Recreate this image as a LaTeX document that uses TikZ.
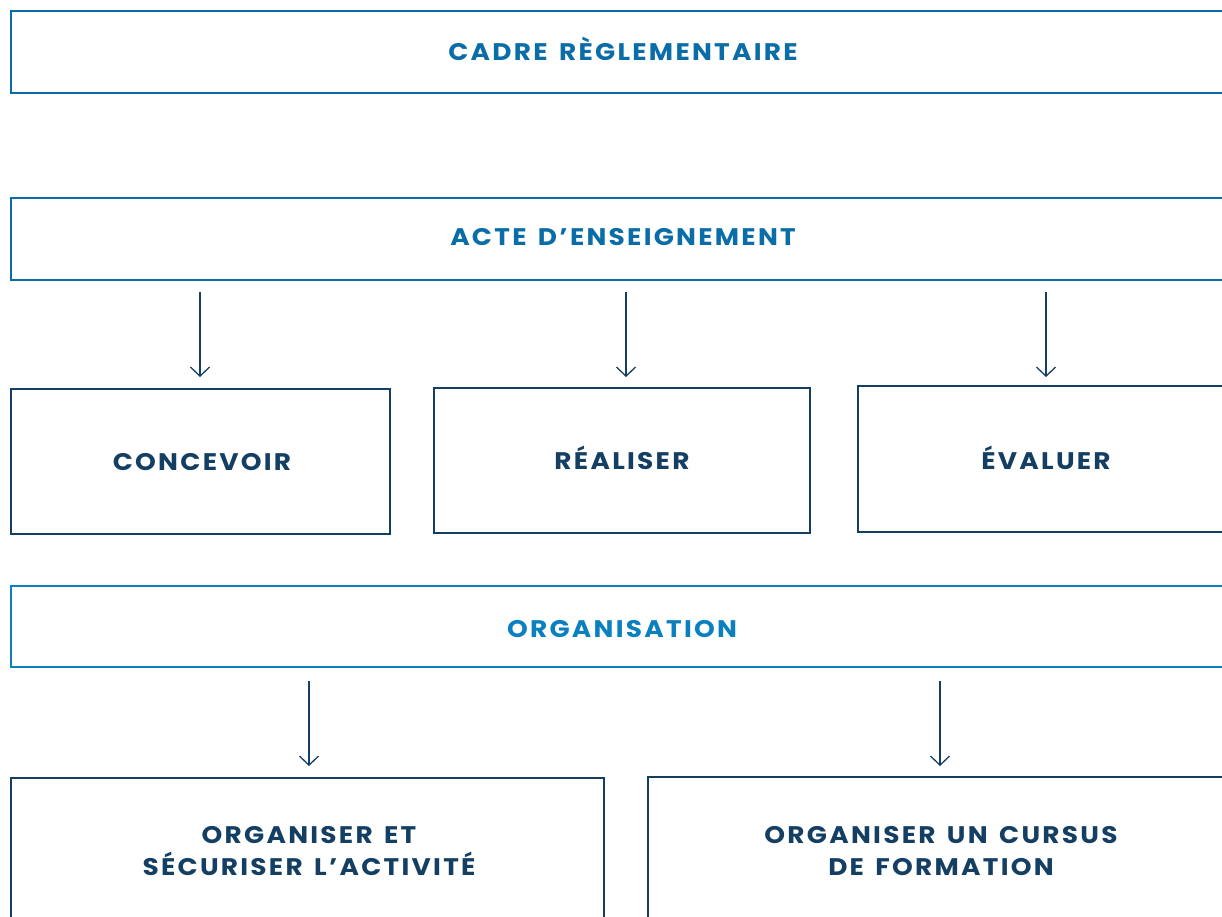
\documentclass[tikz,border=0pt]{standalone}
\usepackage{fontspec}
\setmainfont{Poppins}
\newfontfamily\labfont{Poppins}[LetterSpace=9.5, FakeStretch=1.1, WordSpace=1.45]
\usetikzlibrary{arrows.meta}
\definecolor{topblue}{HTML}{0B6DA8}
\definecolor{orgblue}{HTML}{0A80C0}
\definecolor{darkblue}{HTML}{143F63}
\tikzset{
  x=1pt, y=-1pt,
  topframe/.style={draw=topblue, line width=2.9pt},
  orgframe/.style={draw=orgblue, line width=2.9pt},
  subframe/.style={draw=darkblue, line width=1.3pt},
  toplabel/.style={anchor=base, inner sep=0pt, text=topblue, font=\labfont\bfseries\fontsize{24}{32}\selectfont},
  orglabel/.style={anchor=base, inner sep=0pt, text=orgblue, font=\labfont\bfseries\fontsize{24}{32}\selectfont},
  sublabel/.style={anchor=base, inner sep=0pt, text=darkblue, align=center, font=\labfont\bfseries\fontsize{24}{32}\selectfont},
  flow/.style={draw=darkblue, line width=1.3pt, -{Straight Barb[length=9pt,width=19pt,line width=1.3pt]}},
}
\begin{document}
\begin{tikzpicture}
\useasboundingbox (0,0) rectangle (1222,917);
% frames
\draw[topframe] (11,11) rectangle (1236,93);
\draw[topframe] (11,198) rectangle (1236,280);
\draw[orgframe] (11,586) rectangle (1236,667);
\draw[subframe] (11,389) rectangle (390,534);
\draw[subframe] (434,388) rectangle (810,533);
\draw[subframe] (858,386) rectangle (1236,532);
\draw[subframe] (11,960) -- (11,778) -- (604,778) -- (604,960);
\draw[subframe] (648,960) -- (648,777) -- (1236,777);
% labels
\node[toplabel] (cadre) at (623,61) {CADRE RÈGLEMENTAIRE};
\node[toplabel] (acte) at (623,245) {ACTE D’ENSEIGNEMENT};
\node[sublabel] (concevoir) at (202,470) {CONCEVOIR};
\node[sublabel] (realiser) at (622,469) {RÉALISER};
\node[sublabel] (evaluer) at (1046,469) {ÉVALUER};
\node[orglabel] (orga) at (622,637) {ORGANISATION};
\node[sublabel] (org1) at (309,875) {ORGANISER ET\\SÉCURISER L’ACTIVITÉ};
\node[sublabel] (org2) at (941,875) {ORGANISER UN CURSUS\\DE FORMATION};
% arrow anchors
\coordinate (a1s) at (200,292); \coordinate (a1e) at (200,377);
\coordinate (a2s) at (626,292); \coordinate (a2e) at (626,377);
\coordinate (a3s) at (1046,292); \coordinate (a3e) at (1046,377);
\coordinate (b1s) at (309,681); \coordinate (b1e) at (309,766);
\coordinate (b2s) at (940,681); \coordinate (b2e) at (940,766);
\draw[flow] (a1s) -- (a1e);
\draw[flow] (a2s) -- (a2e);
\draw[flow] (a3s) -- (a3e);
\draw[flow] (b1s) -- (b1e);
\draw[flow] (b2s) -- (b2e);
\end{tikzpicture}
\end{document}
